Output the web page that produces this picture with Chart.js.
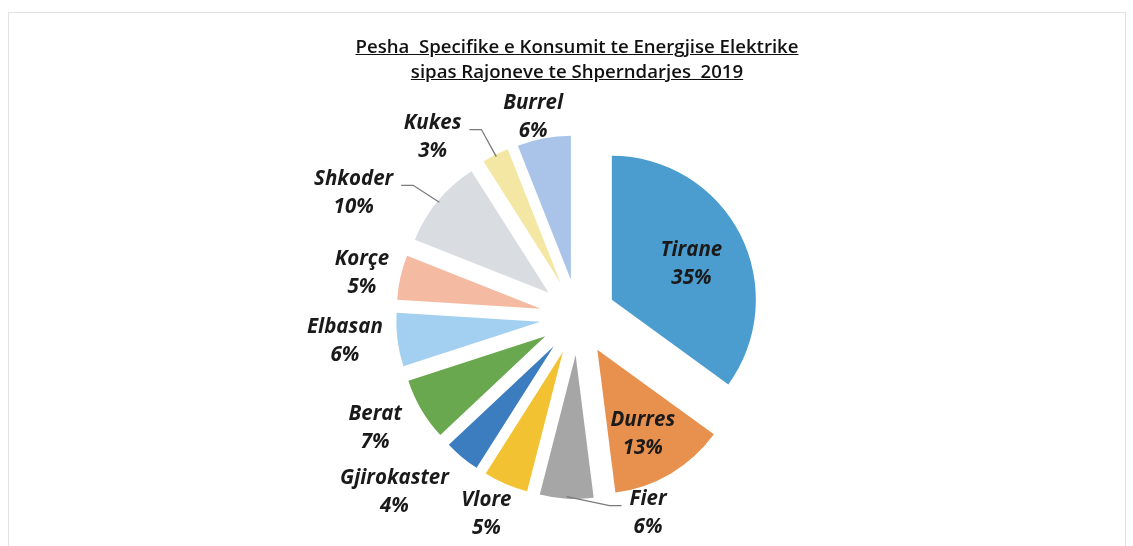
<!DOCTYPE html>
<html>
<head>
<meta charset="utf-8">
<script src="https://cdn.jsdelivr.net/npm/chart.js@4.4.1/dist/chart.umd.min.js"></script>
<style>
  html, body { margin: 0; padding: 0; background: #fff; }
  #wrap { position: relative; width: 1133px; height: 546px; overflow: hidden; }
  #frame { position: absolute; left: 8px; top: 12px; width: 1116px; height: 540px; border: 1px solid #e2e2e2; }
  #title { position: absolute; left: 0; top: 33px; width: 1154px; text-align: center;
           font: 600 18.6px "Open Sans", sans-serif; color: #111; line-height: 25px; white-space: pre; }
  #title span { text-decoration: underline; }
  canvas { position: absolute; left: 0; top: 0; }
</style>
</head>
<body>
<div id="wrap">
  <div id="frame"></div>
  <canvas id="pie" width="1133" height="546"></canvas>
  <div id="title"><span>Pesha  Specifike e Konsumit te Energjise Elektrike</span>
<span>sipas Rajoneve te Shperndarjes  2019</span></div>
</div>
<script>
// share of consumption per distribution region, clockwise from 12 o'clock
const regions = ['Tirane', 'Durres', 'Fier', 'Vlore', 'Gjirokaster', 'Berat', 'Elbasan', 'Korçe', 'Shkoder', 'Kukes', 'Burrel'];
const shares = [35, 13, 6, 5, 4, 7, 6, 5, 10, 3, 6];
const sliceColors = ['#4b9dcf', '#e8914e', '#a6a6a6', '#f3c232', '#3b7dbf', '#6aa84f',
                     '#a3d0f0', '#f5bba2', '#d9dde2', '#f4e7a4', '#a9c4e8'];

const EXPLODE = 38;

// every slice pulled out from the centre along its middle angle
const explodePlugin = {
  id: 'explode',
  afterDatasetsUpdate(chart) {
    chart.getDatasetMeta(0).data.forEach(arc => {
      const mid = (arc.startAngle + arc.endAngle) / 2;
      arc.x += Math.cos(mid) * EXPLODE;
      arc.y += Math.sin(mid) * EXPLODE;
    });
  }
};

const labelPlugin = {
  id: 'sliceLabels',
  afterDatasetsDraw(chart, args, opts) {
    const ctx = chart.ctx;
    const area = chart.chartArea;
    const cx = (area.left + area.right) / 2;
    const cy = (area.top + area.bottom) / 2;
    const lineH = 28;
    ctx.save();
    ctx.font = opts.font;
    ctx.fillStyle = '#1a1a1a';
    ctx.textAlign = 'center';
    ctx.textBaseline = 'middle';
    chart.getDatasetMeta(0).data.forEach((arc, i) => {
      const mid = (arc.startAngle + arc.endAngle) / 2;
      const ux = Math.cos(mid), uy = Math.sin(mid);
      const r = arc.outerRadius;
      const l1 = regions[i], l2 = shares[i] + '%';
      const w = Math.max(ctx.measureText(l1).width, ctx.measureText(l2).width);
      let x, y;
      if (opts.inside.includes(i)) {
        x = cx + ux * (EXPLODE + r * 0.62);
        y = cy + uy * (EXPLODE + r * 0.62);
      } else {
        const R0 = EXPLODE + r + 6;
        x = cx + ux * R0 + ux * w / 2;
        y = cy + uy * R0 + uy * lineH;
      }
      const n = opts.nudge[i];
      x += n[0]; y += n[1];
      ctx.fillText(l1, x, y - lineH / 2);
      ctx.fillText(l2, x, y + lineH / 2);
      if (opts.leaders.includes(i)) {
        const px = cx + ux * (EXPLODE + r - 2);
        const py = cy + uy * (EXPLODE + r - 2);
        const side = x < px ? 1 : -1;
        const sx = x + side * (w / 2 + 8);
        const sy = y - lineH / 2 + 6;
        ctx.beginPath();
        ctx.moveTo(sx, sy);
        ctx.lineTo(sx + side * 12, sy);
        ctx.lineTo(px, py);
        ctx.strokeStyle = '#7a7a7a';
        ctx.lineWidth = 1.3;
        ctx.stroke();
      }
    });
    ctx.restore();
  }
};

new Chart(document.getElementById('pie'), {
  type: 'pie',
  data: {
    labels: regions,
    datasets: [{
      data: shares,
      backgroundColor: sliceColors,
      borderWidth: 0,
      radius: 144
    }]
  },
  options: {
    responsive: false,
    animation: false,
    events: [],
    layout: { padding: { left: 23, right: 0, top: 88, bottom: 0 } },
    plugins: {
      legend: { display: false },
      tooltip: { enabled: false },
      title: { display: false },
      sliceLabels: {
        font: 'italic bold 20.5px "Open Sans", sans-serif',
        inside: [0, 1],
        leaders: [2, 8, 9],
        nudge: [[0, 5], [0, 8], [83, -19], [-7, -1], [-29, 9], [-18, 1], [-9, -3],
                [-6, 3], [-49, 14], [-47, 13], [-4, 12]]
      }
    }
  },
  plugins: [explodePlugin, labelPlugin]
});
</script>
</body>
</html>
